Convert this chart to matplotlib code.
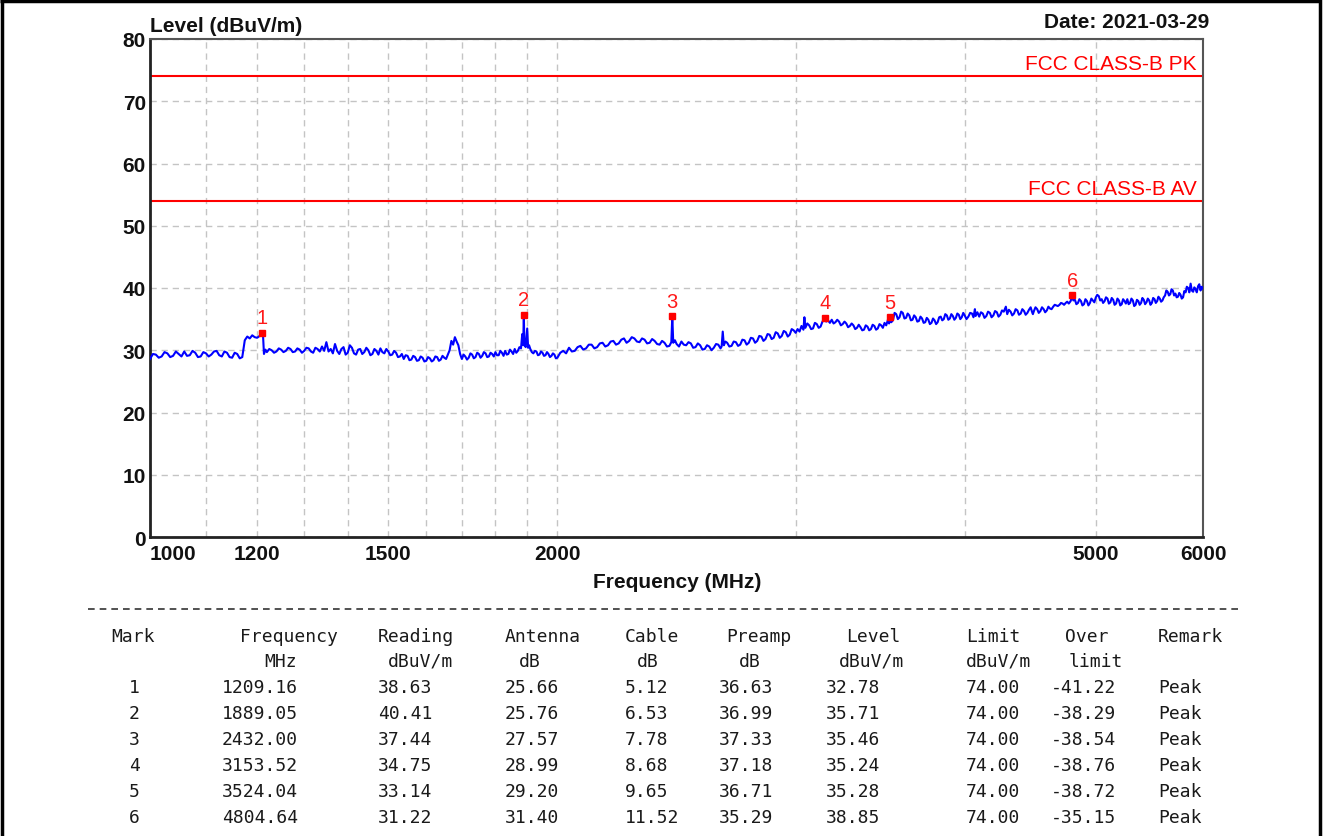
import matplotlib
matplotlib.use("Agg")
import matplotlib.pyplot as plt
from matplotlib.lines import Line2D

# ---------------- data ----------------
trace_freq = [
    1000, 1005, 1010, 1015, 1020, 1025, 1030, 1035, 1040, 1045,
    1050, 1055, 1060, 1065, 1070, 1075, 1080, 1085, 1090, 1095,
    1100, 1105, 1110, 1115, 1120, 1125, 1130, 1135, 1140, 1145,
    1150, 1155, 1160, 1165, 1170, 1175, 1180, 1185, 1190, 1195,
    1200, 1205, 1209.16, 1212, 1214, 1217, 1220, 1225, 1230, 1235,
    1240, 1245, 1250, 1255, 1260, 1265, 1270, 1275, 1280, 1285,
    1290, 1295, 1300, 1305, 1310, 1315, 1320, 1325, 1330, 1335,
    1340, 1345, 1350, 1355, 1360, 1365, 1370, 1375, 1380, 1385,
    1390, 1395, 1400, 1405, 1410, 1415, 1420, 1425, 1430, 1435,
    1440, 1445, 1450, 1455, 1460, 1465, 1470, 1475, 1480, 1485,
    1490, 1495, 1500, 1505, 1510, 1515, 1520, 1525, 1530, 1535,
    1540, 1545, 1550, 1555, 1560, 1565, 1570, 1575, 1580, 1585,
    1590, 1595, 1600, 1605, 1610, 1615, 1620, 1625, 1630, 1635,
    1640, 1645, 1650, 1655, 1660, 1665, 1670, 1675, 1680, 1685,
    1690, 1695, 1700, 1705, 1710, 1715, 1720, 1725, 1730, 1735,
    1740, 1745, 1750, 1755, 1760, 1765, 1770, 1775, 1780, 1785,
    1790, 1795, 1800, 1805, 1810, 1815, 1820, 1825, 1830, 1835,
    1840, 1845, 1850, 1855, 1860, 1865, 1870, 1875, 1880, 1884,
    1887, 1889.05, 1891, 1895, 1900, 1903, 1906, 1910, 1915, 1920,
    1925, 1930, 1935, 1940, 1945, 1950, 1955, 1960, 1965, 1970,
    1975, 1980, 1985, 1990, 1995, 2000, 2010, 2020, 2030, 2040,
    2050, 2060, 2070, 2080, 2090, 2100, 2110, 2120, 2130, 2140,
    2150, 2160, 2170, 2180, 2190, 2200, 2210, 2220, 2230, 2240,
    2250, 2260, 2270, 2280, 2290, 2300, 2310, 2320, 2330, 2340,
    2350, 2360, 2370, 2380, 2390, 2400, 2410, 2420, 2428, 2432,
    2436, 2443, 2450, 2460, 2470, 2480, 2490, 2500, 2510, 2520,
    2530, 2540, 2550, 2560, 2570, 2580, 2590, 2600, 2610, 2620,
    2630, 2640, 2645, 2650, 2655, 2662, 2670, 2680, 2690, 2700,
    2710, 2720, 2730, 2740, 2750, 2760, 2770, 2780, 2790, 2800,
    2810, 2820, 2830, 2840, 2850, 2860, 2870, 2880, 2890, 2900,
    2910, 2920, 2930, 2940, 2950, 2960, 2970, 2980, 2990, 3000,
    3010, 3020, 3030, 3040, 3045, 3050, 3060, 3070, 3080, 3090,
    3100, 3110, 3120, 3130, 3140, 3153.52, 3160, 3170, 3180, 3190,
    3200, 3210, 3220, 3230, 3240, 3250, 3260, 3270, 3280, 3290,
    3300, 3310, 3320, 3330, 3340, 3350, 3360, 3370, 3380, 3390,
    3400, 3410, 3420, 3430, 3440, 3450, 3460, 3470, 3480, 3490,
    3500, 3510, 3517, 3524.04, 3530, 3540, 3550, 3560, 3570, 3580,
    3590, 3600, 3610, 3620, 3630, 3640, 3650, 3660, 3670, 3680,
    3690, 3700, 3710, 3720, 3730, 3740, 3750, 3760, 3770, 3780,
    3790, 3800, 3810, 3820, 3830, 3840, 3850, 3860, 3870, 3880,
    3890, 3900, 3910, 3920, 3930, 3940, 3950, 3960, 3970, 3980,
    3990, 4000, 4012, 4025, 4037, 4050, 4060, 4070, 4075, 4087,
    4100, 4112, 4125, 4137, 4150, 4162, 4175, 4187, 4200, 4212,
    4225, 4237, 4250, 4262, 4275, 4290, 4300, 4312, 4325, 4337,
    4350, 4362, 4375, 4387, 4400, 4412, 4425, 4437, 4450, 4462,
    4475, 4485, 4492, 4500, 4512, 4525, 4537, 4550, 4562, 4575,
    4587, 4600, 4612, 4625, 4637, 4650, 4662, 4675, 4687, 4700,
    4712, 4725, 4737, 4750, 4762, 4775, 4790, 4804.64, 4812, 4825,
    4837, 4850, 4862, 4875, 4887, 4900, 4912, 4925, 4937, 4950,
    4962, 4975, 4987, 5000, 5012, 5025, 5037, 5050, 5062, 5075,
    5087, 5100, 5112, 5125, 5137, 5150, 5162, 5175, 5187, 5200,
    5212, 5225, 5237, 5250, 5262, 5275, 5287, 5300, 5312, 5325,
    5337, 5350, 5362, 5375, 5387, 5400, 5412, 5425, 5437, 5450,
    5462, 5475, 5487, 5500, 5512, 5525, 5537, 5550, 5562, 5575,
    5587, 5600, 5612, 5625, 5637, 5650, 5662, 5675, 5687, 5700,
    5712, 5725, 5737, 5750, 5762, 5775, 5787, 5800, 5812, 5825,
    5837, 5850, 5862, 5875, 5887, 5900, 5912, 5925, 5937, 5950,
    5962, 5975, 5987, 6000,
]
trace_level = [
    28.6, 29.4, 29.3, 28.8, 29.0, 29.7, 29.5, 28.9, 29.1, 29.8,
    29.4, 29.0, 29.8, 29.1, 29.2, 29.9, 29.6, 28.9, 29.0, 29.7,
    29.5, 29.0, 29.3, 29.8, 29.9, 29.2, 29.0, 29.8, 29.6, 28.9,
    28.8, 29.6, 29.4, 28.7, 28.9, 31.6, 32.2, 31.9, 32.4, 32.1,
    32.0, 32.3, 32.78, 32.5, 29.4, 30.1, 29.7, 30.2, 30.0, 29.6,
    29.8, 30.3, 30.1, 29.7, 29.9, 30.4, 30.2, 29.7, 29.8, 30.3,
    30.1, 29.6, 29.9, 30.4, 30.3, 29.8, 29.6, 30.4, 30.2, 29.8,
    30.6, 29.9, 31.3, 29.8, 30.2, 29.5, 31.0, 29.9, 29.4, 30.2,
    30.5, 29.3, 29.6, 30.8, 30.4, 29.5, 29.3, 30.1, 30.2, 29.4,
    29.7, 30.4, 30.0, 29.2, 29.4, 30.2, 29.9, 29.3, 30.3, 29.7,
    29.5, 30.2, 29.8, 29.2, 29.3, 29.9, 29.6, 28.9, 29.0, 29.4,
    28.6, 29.2, 29.1, 28.4, 28.5, 29.1, 28.9, 28.3, 28.4, 29.0,
    28.8, 28.2, 28.3, 28.9, 28.7, 28.2, 28.4, 29.0, 28.9, 28.3,
    28.5, 29.1, 28.8, 28.6, 29.3, 30.0, 31.5, 30.9, 32.1, 31.4,
    30.8, 29.4, 28.6, 29.3, 29.0, 28.5, 28.8, 29.5, 29.3, 28.7,
    28.9, 29.6, 29.4, 28.8, 29.1, 29.7, 29.5, 28.9, 29.0, 29.6,
    29.4, 29.0, 29.7, 29.2, 29.2, 29.9, 29.6, 29.1, 29.9, 29.3,
    29.4, 30.1, 29.8, 29.4, 30.2, 29.6, 29.9, 30.5, 30.3, 32.6,
    30.8, 35.71, 30.9, 30.5, 33.5, 30.4, 30.8, 30.2, 29.7, 29.5,
    29.9, 29.8, 29.2, 29.3, 29.8, 29.6, 29.1, 29.2, 29.7, 29.4,
    28.9, 29.1, 29.5, 29.3, 28.7, 28.8, 29.6, 29.9, 29.5, 30.4,
    29.8, 29.9, 30.5, 30.7, 30.1, 30.3, 30.9, 30.9, 30.3, 30.5,
    31.1, 31.2, 30.6, 30.8, 31.4, 31.5, 30.9, 31.1, 31.7, 31.9,
    31.2, 31.5, 32.1, 31.9, 31.4, 31.3, 31.9, 31.7, 31.1, 31.2,
    31.8, 31.5, 31.0, 30.9, 31.5, 31.2, 30.6, 30.7, 31.3, 35.46,
    31.2, 31.6, 31.0, 30.6, 31.4, 30.9, 30.8, 31.3, 31.1, 30.4,
    30.5, 31.1, 30.8, 30.1, 30.2, 30.8, 30.6, 30.0, 30.4, 31.0,
    30.9, 30.3, 30.6, 33.0, 30.8, 31.4, 31.2, 30.6, 30.7, 31.4,
    31.3, 30.7, 30.9, 31.7, 31.6, 30.9, 31.2, 32.0, 31.9, 31.2,
    31.5, 32.3, 32.2, 31.5, 31.8, 32.6, 32.5, 31.8, 32.0, 32.9,
    32.7, 32.0, 32.3, 33.1, 32.9, 32.2, 32.5, 33.4, 33.2, 32.8,
    33.4, 33.0, 33.9, 33.3, 35.3, 33.6, 34.3, 34.0, 33.4, 33.5,
    34.4, 34.2, 33.6, 33.8, 34.6, 35.24, 34.6, 34.8, 34.4, 34.9,
    34.3, 34.5, 34.9, 34.6, 34.0, 34.2, 34.6, 34.3, 33.7, 33.9,
    34.3, 34.0, 33.4, 33.6, 34.1, 33.7, 33.2, 33.3, 34.0, 33.8,
    33.2, 33.4, 34.1, 33.9, 33.3, 33.5, 34.2, 34.0, 33.6, 34.4,
    34.0, 34.9, 34.3, 35.28, 34.5, 34.8, 36.0, 35.8, 35.0, 35.3,
    36.2, 36.0, 35.1, 35.2, 35.9, 35.6, 34.8, 34.9, 35.6, 35.3,
    34.6, 34.7, 35.4, 35.1, 34.4, 34.5, 35.2, 34.9, 34.2, 34.4,
    35.1, 34.8, 34.2, 34.5, 35.3, 35.4, 34.8, 35.0, 35.8, 35.6,
    34.9, 35.1, 35.8, 35.5, 34.9, 35.2, 35.9, 35.7, 35.0, 35.3,
    36.0, 35.6, 35.0, 35.4, 36.0, 35.9, 35.3, 36.6, 35.5, 36.1,
    35.4, 36.1, 35.9, 35.2, 35.5, 36.2, 36.0, 35.3, 35.6, 36.3,
    36.1, 35.4, 35.7, 36.4, 36.2, 37.0, 35.8, 36.5, 36.2, 35.6,
    35.9, 36.6, 36.4, 35.7, 35.9, 36.6, 36.3, 35.7, 36.0, 36.5,
    36.9, 36.2, 35.8, 36.3, 36.9, 36.6, 36.0, 36.3, 36.9, 36.6,
    36.1, 36.4, 37.0, 36.7, 36.6, 37.0, 37.3, 37.2, 37.1, 37.3,
    37.6, 37.5, 37.3, 37.6, 37.8, 37.5, 37.9, 38.85, 38.0, 38.1,
    37.4, 37.6, 38.2, 37.9, 37.2, 37.4, 38.2, 37.9, 37.2, 37.6,
    38.3, 38.0, 37.7, 38.5, 38.9, 38.7, 38.0, 38.2, 37.6, 37.9,
    38.5, 38.3, 37.5, 37.7, 38.4, 38.1, 37.3, 37.5, 38.3, 38.0,
    37.2, 37.4, 38.2, 37.9, 37.5, 38.2, 37.4, 37.6, 38.3, 38.0,
    37.1, 37.3, 38.1, 37.9, 37.3, 37.6, 38.4, 38.1, 37.4, 37.7,
    38.3, 38.0, 37.3, 37.6, 38.4, 38.2, 37.6, 37.9, 38.6, 38.3,
    37.8, 38.0, 38.5, 38.8, 39.6, 39.4, 38.8, 39.0, 39.8, 39.6,
    38.8, 39.1, 38.5, 38.6, 39.2, 38.9, 38.3, 38.5, 39.5, 39.3,
    40.2, 40.0, 39.3, 40.7, 39.6, 39.4, 40.1, 39.8, 39.3, 40.3,
    40.6, 39.6, 40.2, 39.9,
]
assert len(trace_freq) == len(trace_level)

limit_values = [74, 54]
limit_labels = ["FCC CLASS-B PK", "FCC CLASS-B AV"]

xtick_values = [1000, 1200, 1500, 2000, 5000, 6000]
xtick_labels = ["1000", "1200", "1500", "2000", "5000", "6000"]
xgrid_minor = [1100, 1300, 1400, 1600, 1700, 1800, 1900, 3000, 4000]
ytick_values = [0, 10, 20, 30, 40, 50, 60, 70, 80]

marker_ids = [1, 2, 3, 4, 5, 6]
marker_freq = [1209.16, 1889.05, 2432.00, 3153.52, 3524.04, 4804.64]
reading = [38.63, 40.41, 37.44, 34.75, 33.14, 31.22]
antenna = [25.66, 25.76, 27.57, 28.99, 29.20, 31.40]
cable = [5.12, 6.53, 7.78, 8.68, 9.65, 11.52]
preamp = [36.63, 36.99, 37.33, 37.18, 36.71, 35.29]
level = [32.78, 35.71, 35.46, 35.24, 35.28, 38.85]
limit = [74.00, 74.00, 74.00, 74.00, 74.00, 74.00]
over_limit = [-41.22, -38.29, -38.54, -38.76, -38.72, -35.15]
remark = ["Peak", "Peak", "Peak", "Peak", "Peak", "Peak"]

# ---------------- figure ----------------
W, H = 1330, 837
fig = plt.figure(figsize=(W / 100, H / 100), dpi=100)
fig.patch.set_facecolor("white")


def fx(x):
    return x / W


def fy(y):
    return 1 - y / H


SANS = ["Liberation Sans", "DejaVu Sans"]
MONO = ["DejaVu Sans Mono"]

ax = fig.add_axes([fx(150), fy(538), (1203 - 150) / W, (538 - 40) / H])
ax.set_xscale("log")
ax.set_xlim(1000, 6000)
ax.set_ylim(0, 80)

ax.set_xticks(xtick_values)
xlabels = ax.set_xticklabels(xtick_labels)
ax.set_xticks(xgrid_minor, minor=True)
ax.set_xticklabels([""] * len(xgrid_minor), minor=True)
ax.set_yticks(ytick_values)
ax.set_yticklabels([str(v) for v in ytick_values])
for lab in ax.get_xticklabels() + ax.get_yticklabels():
    lab.set_fontfamily(SANS)
    lab.set_fontsize(15)
    lab.set_fontweight("bold")
    lab.set_color("#111111")
xlabels[0].set_horizontalalignment("left")
ax.tick_params(axis="both", which="both", length=0)
ax.tick_params(axis="x", pad=5)
ax.tick_params(axis="y", pad=3)

grid_kw = dict(color="#c4c4c4", linewidth=1.0, linestyle=(0, (4.5, 3.5)))
ax.xaxis.grid(True, which="both", **grid_kw)
ax.yaxis.grid(True, which="major", **grid_kw)
ax.set_axisbelow(True)

for side in ["top", "right"]:
    ax.spines[side].set_color("#555555")
    ax.spines[side].set_linewidth(1.5)
for side in ["left", "bottom"]:
    ax.spines[side].set_color("#222222")
    ax.spines[side].set_linewidth(2.0)

# trace
ax.plot(trace_freq, trace_level, color="#0000ff", lw=1.5, zorder=3)

# limit lines
for lim, lab in zip(limit_values, limit_labels):
    ax.axhline(lim, color="#ff0000", lw=1.5, zorder=2)
    ax.text(0.994, lim + 0.5, lab, transform=ax.get_yaxis_transform(),
            ha="right", va="bottom", color="#ff0000", fontsize=15,
            family=SANS)

# markers
ax.plot(marker_freq, level, linestyle="none", marker="s", markersize=5,
        color="#ff0000", zorder=4)
for mid, f, lv in zip(marker_ids, marker_freq, level):
    ax.annotate(str(mid), (f, lv), xytext=(0, 4), textcoords="offset points",
                ha="center", va="bottom", color="#ff1a1a", fontsize=14.5,
                family=SANS)

# axis titles
fig.text(fx(150), fy(27), "Level (dBuV/m)", ha="left", va="center",
         fontsize=15, fontweight="bold", family=SANS, color="#111111")
fig.text(fx(1209), fy(22), "Date: 2021-03-29", ha="right", va="center",
         fontsize=15, fontweight="bold", family=SANS, color="#111111")
fig.text(fx(677), fy(582), "Frequency (MHz)", ha="center", va="center",
         fontsize=15, fontweight="bold", family=SANS, color="#111111")

# dashed separator
fig.add_artist(Line2D([fx(88), fx(1240)], [fy(610), fy(610)], color="#333333",
                      lw=1.2, linestyle=(0, (4, 3))))

# table
tkw = dict(family=MONO, fontsize=13, va="center", color="#1a1a1a")
hdr1 = [(111, "Mark"), (240, "Frequency"), (378, "Reading"), (505, "Antenna"),
        (625, "Cable"), (726, "Preamp"), (846, "Level"), (966, "Limit"),
        (1065, "Over"), (1158, "Remark")]
hdr2 = [(264, "MHz"), (388, "dBuV/m"), (519, "dB"), (637, "dB"), (739, "dB"),
        (839, "dBuV/m"), (966, "dBuV/m"), (1069, "limit")]
for x, t in hdr1:
    fig.text(fx(x), fy(637), t, ha="left", **tkw)
for x, t in hdr2:
    fig.text(fx(x), fy(662), t, ha="left", **tkw)

for i in range(len(marker_ids)):
    y = fy(688 + 26 * i)
    fig.text(fx(134), y, str(marker_ids[i]), ha="center", **tkw)
    cols = [(222, f"{marker_freq[i]:.2f}"), (378, f"{reading[i]:.2f}"),
            (505, f"{antenna[i]:.2f}"), (625, f"{cable[i]:.2f}"),
            (719, f"{preamp[i]:.2f}"), (826, f"{level[i]:.2f}"),
            (966, f"{limit[i]:.2f}"), (1051, f"{over_limit[i]:.2f}"),
            (1158, remark[i])]
    for x, t in cols:
        fig.text(fx(x), y, t, ha="left", **tkw)

# outer frame (top, left, right)
frame_kw = dict(color="black", lw=2.5, solid_capstyle="butt")
fig.add_artist(Line2D([0, fx(1321)], [fy(1.5), fy(1.5)], **frame_kw))
fig.add_artist(Line2D([fx(1.5), fx(1.5)], [0, 1], **frame_kw))
fig.add_artist(Line2D([fx(1320), fx(1320)], [0, 1], **frame_kw))

fig.savefig("out.png", dpi=100, facecolor="white")
